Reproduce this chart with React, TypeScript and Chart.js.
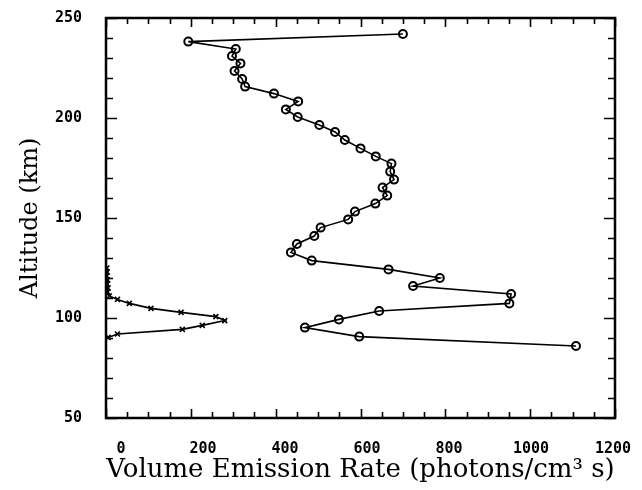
import React, { useEffect, useRef } from "react";
import { Chart, registerables } from "chart.js";

Chart.register(...registerables);

// Circle profile (upper curve)
const circleAltitudes = [
  242, 238.2, 234.5, 231, 227.3, 223.5, 219.5, 215.7, 212.2, 208.3,
  204.3, 200.5, 196.5, 193, 189, 184.8, 180.8, 177.2, 173.2, 169.2,
  165.2, 161.2, 157.2, 153.2, 149.3, 145.2, 141, 137, 132.8, 128.7,
  124.3, 120, 116, 112, 107.3, 103.5, 99.3, 95.2, 90.7, 86,
];
const circleRates = [
  700, 194, 306, 297, 317, 303, 321, 328, 396, 453,
  424, 452, 503, 540, 563, 600, 636, 673, 670, 679,
  652, 663, 635, 587, 571, 506, 491, 450, 436, 485,
  666, 787, 724, 955, 951, 644, 549, 469, 597, 1108,
];

// Cross profile (lower peak)
const crossAltitudes = [
  125, 123, 121, 119, 117, 115, 113, 111, 109.3, 107.3,
  104.8, 102.8, 100.7, 98.7, 96.3, 94.3, 92, 90.3,
];
const crossRates = [
  2, 3, 2, 4, 3, 5, 4, 8, 27, 55,
  106, 177, 259, 280, 227, 180, 27, 5,
];

const xMin = 0;
const xMax = 1200;
const yMin = 50;
const yMax = 250;
const xLabelStep = 200;
const yLabelStep = 50;
const xMinorStep = 50;
const yMinorStep = 10;

const xTitle = "Volume Emission Rate (photons/cm³ s)";
const yTitle = "Altitude (km)";

const tickFont = { family: "DejaVu Sans Mono", weight: "bold" as const, size: 15 };

export default function App() {
  const ref = useRef<HTMLCanvasElement>(null);

  useEffect(() => {
    const canvas = ref.current;
    if (!canvas) return;

    const framePlugin = {
      id: "frameTicks",
      afterDatasetsDraw(chart: any) {
        const { ctx, chartArea: a, scales } = chart;
        const xs = scales.x;
        const ys = scales.y;
        ctx.save();
        ctx.strokeStyle = "#000";
        ctx.lineWidth = 1.6;
        ctx.beginPath();
        for (let v = xMin; v <= xMax; v += xMinorStep) {
          const px = Math.round(xs.getPixelForValue(v)) + 0.5;
          const len = v % xLabelStep === 0 ? 9 : 6;
          ctx.moveTo(px, a.bottom);
          ctx.lineTo(px, a.bottom - len);
          ctx.moveTo(px, a.top);
          ctx.lineTo(px, a.top + len);
        }
        for (let v = yMin; v <= yMax; v += yMinorStep) {
          const py = Math.round(ys.getPixelForValue(v)) + 0.5;
          const len = v % yLabelStep === 0 ? 11 : 7;
          ctx.moveTo(a.left, py);
          ctx.lineTo(a.left + len, py);
          ctx.moveTo(a.right, py);
          ctx.lineTo(a.right - len, py);
        }
        ctx.stroke();
        ctx.lineWidth = 2.5;
        ctx.strokeRect(a.left, a.top, a.right - a.left, a.bottom - a.top);
        ctx.restore();
      },
    };

    const hiddenTickGrid = (len: number) => ({
      display: true,
      drawOnChartArea: false,
      drawTicks: true,
      tickLength: len,
      color: "rgba(0,0,0,0)",
    });

    const chart = new Chart(canvas, {
      type: "scatter",
      data: {
        datasets: [
          {
            label: "circles",
            data: circleRates.map((v, i) => ({ x: v, y: circleAltitudes[i] })),
            showLine: true,
            borderColor: "#000",
            borderWidth: 1.6,
            pointStyle: "circle",
            pointRadius: 4,
            pointBorderWidth: 2,
            pointBorderColor: "#000",
            pointBackgroundColor: "rgba(0,0,0,0)",
            xAxisID: "x",
            yAxisID: "y",
          },
          {
            label: "crosses",
            data: crossRates.map((v, i) => ({ x: v, y: crossAltitudes[i] })),
            showLine: true,
            borderColor: "#000",
            borderWidth: 1.6,
            pointStyle: "crossRot",
            pointRadius: 3.5,
            pointBorderWidth: 1.6,
            pointBorderColor: "#000",
            pointBackgroundColor: "#000",
            xAxisID: "x",
            yAxisID: "y",
          },
        ],
      },
      options: {
        responsive: false,
        animation: false,
        devicePixelRatio: 1,
        layout: { padding: { left: 0, top: 18, right: 27, bottom: 0 } },
        plugins: {
          legend: { display: false },
          tooltip: { enabled: false },
        },
        scales: {
          x: {
            type: "linear",
            display: false,
            min: xMin,
            max: xMax,
          },
          xl: {
            type: "linear",
            position: "bottom",
            min: -36.6,
            max: 1204.9,
            grid: hiddenTickGrid(18),
            border: { display: false },
            ticks: {
              stepSize: xLabelStep,
              includeBounds: false,
              autoSkip: false,
              maxRotation: 0,
              padding: 4,
              color: "#000",
              font: tickFont,
              callback: (v: any) => String(v),
            },
            title: {
              display: true,
              text: xTitle,
              color: "#000",
              font: { family: "DejaVu Serif", size: 26 },
              padding: { top: 0, bottom: 4 },
            },
            afterFit(scale: any) {
              scale.height = 72;
            },
          },
          y: {
            type: "linear",
            min: yMin,
            max: yMax,
            grid: hiddenTickGrid(20),
            border: { display: false },
            ticks: {
              stepSize: yLabelStep,
              padding: 4,
              color: "#000",
              font: tickFont,
              callback: (v: any) => String(v),
            },
            title: {
              display: true,
              text: yTitle,
              color: "#000",
              font: { family: "DejaVu Serif", size: 24 },
              padding: { top: 16, bottom: 0 },
            },
            afterFit(scale: any) {
              scale.width = 106;
            },
          },
        },
      },
      plugins: [framePlugin],
    });

    return () => chart.destroy();
  }, []);

  return (
    <div
      style={{
        position: "absolute",
        left: 0,
        top: 0,
        width: 642,
        height: 490,
        background: "#fff",
      }}
    >
      <canvas ref={ref} width={642} height={490} style={{ display: "block" }} />
    </div>
  );
}
